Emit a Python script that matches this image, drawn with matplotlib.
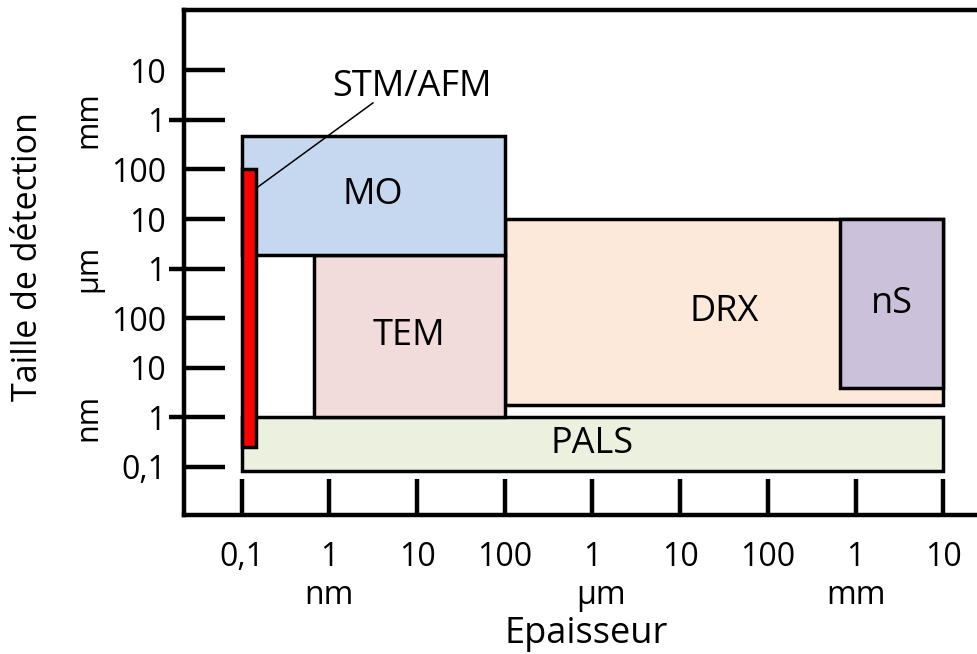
import matplotlib
matplotlib.use("Agg")
import matplotlib.pyplot as plt
from matplotlib.patches import Rectangle
from matplotlib.ticker import FixedLocator, NullLocator, NullFormatter
from matplotlib.transforms import blended_transform_factory

plt.rcParams['font.family'] = ['Open Sans', 'DejaVu Sans']

# ---- data (all sizes in nm) ----
techniques = ["PALS", "DRX", "nS", "TEM", "MO", "STM/AFM"]
x_min = [0.1, 100, 6.6e5, 0.667, 0.1, 0.1]
x_max = [1e7, 1e7, 1e7, 100, 100, 0.145]
y_min = [0.083, 1.78, 3.9, 1.0, 1900, 0.25]
y_max = [1.0, 1e4, 1e4, 1900, 4.7e5, 1e5]
fill_colors = ["#ebf1de", "#fde9d9", "#ccc1da", "#f2dcdb", "#c6d8f0", "#ff0000"]

tick_values = [0.1, 1, 10, 100, 1e3, 1e4, 1e5, 1e6, 1e7]
tick_labels = ["0,1", "1", "10", "100", "1", "10", "100", "1", "10"]
unit_values = [1, 1e3, 1e6]
unit_labels = ["nm", "µm", "mm"]

W, H = 978, 654
fig = plt.figure(figsize=(W / 100, H / 100), dpi=100)
ax = fig.add_axes([184 / W, (H - 515) / H, (978 - 184) / W + 0.01, 505 / H])
ax.set_xscale('log')
ax.set_yscale('log')
ax.set_xlim(0.022, 10 ** (7.396 + 0.01 * W / 87.7))
ax.set_ylim(0.01076, 1.637e8)

lw_edge = 2.5
for name, x0, x1, y0, y1, c in zip(techniques, x_min, x_max, y_min, y_max, fill_colors):
    ax.add_patch(Rectangle((x0, y0), x1 - x0, y1 - y0, facecolor=c,
                           edgecolor='black', linewidth=lw_edge, zorder=2))
    if name != "STM/AFM":
        cx = (x0 * x1) ** 0.5
        cy = (y0 * y1) ** 0.5
        ax.text(cx, cy, name, ha='center', va='center', fontsize=26, zorder=3)

# STM/AFM callout
ax.plot([0.153, 3.14], [4.42e4, 2.19e6], color='black', linewidth=1.1, zorder=4)
ax.text(8.75, 4.57e6, "STM/AFM", ha='center', va='center', fontsize=26, zorder=4)

# spines
for s in ['left', 'top', 'bottom']:
    ax.spines[s].set_linewidth(3.2)
ax.spines['right'].set_visible(False)

# ticks
ax.xaxis.set_major_locator(FixedLocator(tick_values))
ax.xaxis.set_ticklabels(tick_labels)
ax.xaxis.set_minor_locator(NullLocator())
ax.yaxis.set_major_locator(FixedLocator(tick_values))
ax.yaxis.set_ticklabels(tick_labels)
ax.yaxis.remove_overlapping_locs = False
ax.yaxis.set_minor_locator(FixedLocator(unit_values))
ax.yaxis.set_minor_formatter(NullFormatter())

ax.tick_params(axis='x', which='major', direction='in', length=26, width=3.2,
               pad=19, labelsize=23)
ax.tick_params(axis='y', which='major', direction='in', length=29.5, width=3.2,
               pad=13, labelsize=23)
ax.tick_params(axis='y', which='minor', direction='out', length=10.8, width=3.2)

# unit labels
tx = blended_transform_factory(ax.transData, fig.transFigure)
ty = blended_transform_factory(fig.transFigure, ax.transData)
x_unit_pos = [1, 1.25e3, 1e6]
for v, lab in zip(x_unit_pos, unit_labels):
    ax.text(v, 1 - 596 / H, lab, transform=tx, ha='center', va='center',
            fontsize=23, clip_on=False)
for v, lab in zip(unit_values, unit_labels):
    ax.text(88 / W, v, lab, transform=ty, ha='center', va='center',
            rotation=90, fontsize=22, clip_on=False)

fig.text(586 / W, 1 - 634 / H, "Epaisseur", ha='center', va='center', fontsize=26)
fig.text(28 / W, 1 - 257 / H, "Taille de détection", ha='center', va='center',
         rotation=90, fontsize=24.5)

fig.savefig("out.png", dpi=100)
